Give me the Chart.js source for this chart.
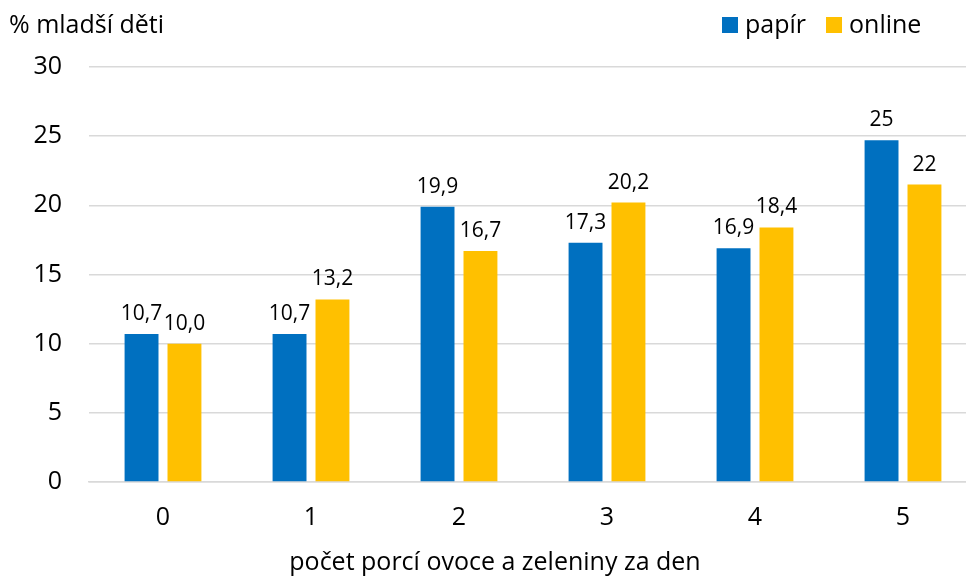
<!DOCTYPE html>
<html>
<head>
<meta charset="utf-8">
<script src="https://cdn.jsdelivr.net/npm/chart.js@4"></script>
<style>
  html, body { margin: 0; padding: 0; background: #fff; overflow: hidden; }
  #wrap { width: 966px; height: 581px; overflow: hidden; }
</style>
</head>
<body>
<div id="wrap"><canvas id="chart" width="980" height="581"></canvas></div>
<script>
/* ---------------------------------- Data ---------------------------------- */
const categories = ['0', '1', '2', '3', '4', '5'];
const papir = [10.7, 10.7, 19.9, 17.3, 16.9, 24.7];
const online = [10.0, 13.2, 16.7, 20.2, 18.4, 21.5];
const papirLabels = ['10,7', '10,7', '19,9', '17,3', '16,9', '25'];
const onlineLabels = ['10,0', '13,2', '16,7', '20,2', '18,4', '22'];
const yTitle = '% mladší děti';
const xTitle = 'počet porcí ovoce a zeleniny za den';

const FONT = '"Open Sans", sans-serif';

/* --------------------------------- Plugins -------------------------------- */
// labels above each bar
const barLabels = {
    id: 'barLabels',
    afterDatasetsDraw(chart) {
        const ctx = chart.ctx;
        ctx.save();
        ctx.font = '21px ' + FONT;
        ctx.fillStyle = '#000';
        ctx.textAlign = 'center';
        ctx.textBaseline = 'alphabetic';
        chart.data.datasets.forEach((ds, i) => {
            chart.getDatasetMeta(i).data.forEach((bar, j) => {
                ctx.fillText(ds.labels[j], bar.x, bar.y - 14);
            });
        });
        ctx.restore();
    }
};

// y title top-left, legend top-right, x title under the axis
const header = {
    id: 'header',
    afterDraw(chart) {
        const ctx = chart.ctx;
        ctx.save();
        ctx.font = '25px ' + FONT;
        ctx.fillStyle = '#000';
        ctx.textBaseline = 'middle';
        ctx.textAlign = 'left';
        ctx.fillText(yTitle, 9, 26);

        let x = 722;
        chart.data.datasets.forEach(ds => {
            ctx.fillStyle = ds.backgroundColor;
            ctx.fillRect(x, 17, 16, 16);
            ctx.fillStyle = '#000';
            ctx.fillText(ds.label, x + 23, 26);
            x += 23 + ctx.measureText(ds.label).width + 20;
        });

        ctx.textAlign = 'center';
        ctx.fillText(xTitle, 495, 563);
        ctx.restore();
    }
};

/* -------------------------------- Chart.js -------------------------------- */
// canvas is a bit wider than the page: the plot runs past the right edge, cropped like the original
new Chart(document.getElementById('chart'), {
    type: 'bar',
    data: {
        labels: categories,
        datasets: [
            { label: 'papír', data: papir, labels: papirLabels, backgroundColor: '#0070C0' },
            { label: 'online', data: online, labels: onlineLabels, backgroundColor: '#FFC000' }
        ]
    },
    options: {
        responsive: false,
        animation: false,
        layout: { padding: { top: 67, right: 3, left: 0, bottom: 0 } },
        categoryPercentage: 0.58,
        barPercentage: 0.79,
        plugins: {
            legend: { display: false },
            tooltip: { enabled: false }
        },
        scales: {
            x: {
                afterFit: (scale) => { scale.height = 99; },
                grid: { display: false, drawTicks: false },
                border: { color: '#d9d9d9', width: 1.5 },
                ticks: { color: '#000', font: { family: FONT, size: 25 }, padding: 21 }
            },
            y: {
                min: 0,
                max: 30,
                afterFit: (scale) => { scale.width = 89; },
                grid: { color: '#d9d9d9', lineWidth: 1.5, drawTicks: false },
                border: { display: false },
                ticks: { stepSize: 5, color: '#000', font: { family: FONT, size: 25 }, padding: 27 }
            }
        }
    },
    plugins: [barLabels, header]
});
</script>
</body>
</html>
